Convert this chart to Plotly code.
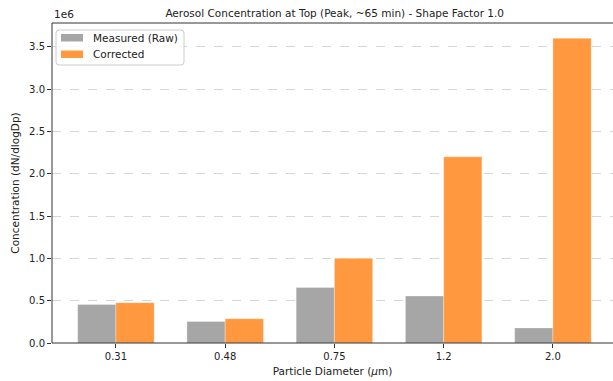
import plotly.graph_objects as go

diameters = ["0.31", "0.48", "0.75", "1.2", "2.0"]
measured = [0.455e6, 0.255e6, 0.655e6, 0.555e6, 0.178e6]
corrected = [0.476e6, 0.287e6, 1.0e6, 2.2e6, 3.6e6]
y_ticks = [0, 0.5e6, 1.0e6, 1.5e6, 2.0e6, 2.5e6, 3.0e6, 3.5e6]
y_tick_text = ["0.0", "0.5", "1.0", "1.5", "2.0", "2.5", "3.0", "3.5"]
series_names = ["Measured (Raw)", "Corrected"]
series_colors = ["#a6a6a6", "#ff983e"]

font = "DejaVu Sans"
W, H = 613, 381
ML, MR, MT, MB = 52, 0, 23, 38
PW, PH = W - ML - MR, H - MT - MB

def px(x):
    return (x - ML) / PW

def py(y):
    return (H - MB - y) / PH

fig = go.Figure()
for name, vals, col in zip(series_names, [measured, corrected], series_colors):
    fig.add_bar(x=list(range(len(diameters))), y=vals, name=name,
                marker=dict(color=col, line=dict(color="rgba(255,255,255,0.6)", width=0.5)))

fig.update_layout(
    width=W, height=H,
    margin=dict(l=ML, r=MR, t=MT, b=MB),
    paper_bgcolor="white", plot_bgcolor="white",
    barmode="group", bargap=0.3, bargroupgap=0,
    font=dict(family=font, size=10, color="#222"),
    title=dict(text="Aerosol Concentration at Top (Peak, ~65 min) - Shape Factor 1.0",
               x=0.546, xanchor="center", y=0.965, yanchor="middle",
               font=dict(size=10.5, family=font, color="#222")),
    showlegend=False,
)
fig.update_xaxes(
    range=[-0.585, 4.55],
    tickmode="array", tickvals=list(range(len(diameters))), ticktext=diameters,
    ticks="outside", ticklen=4, tickcolor="#333", showline=False,
    showgrid=False, zeroline=False,
    title=dict(text="Particle Diameter (<i>μ</i>m)", font=dict(size=10.5, family=font), standoff=6),
)
fig.update_yaxes(
    range=[0, 3.78e6],
    tickmode="array", tickvals=y_ticks, ticktext=y_tick_text,
    ticks="outside", ticklen=4, tickcolor="#333", showline=False,
    showgrid=True, gridcolor="#d6d6d6", griddash="dash",
    gridwidth=0.8, zeroline=False,
    title=dict(text="Concentration (dN/dlogDp)", font=dict(size=10.5, family=font), standoff=7),
)
# axes spines (left, top, bottom; right spine lies outside the visible window)
for x0, x1, y0, y1 in [(0, 1.01, 1, 1), (0, 1.01, 0, 0), (0, 0, 0, 1)]:
    fig.add_shape(type="line", xref="paper", yref="paper", x0=x0, x1=x1, y0=y0, y1=y1,
                  line=dict(color="#333", width=1))

# legend box (matplotlib-style, rounded)
bx0, bx1, by0, by1 = 56, 184, 30, 65
r = 3
rx, ry = r / PW, r / PH
X0, X1, Y0, Y1 = px(bx0), px(bx1), py(by1), py(by0)
path = (f"M {X0+rx},{Y1} L {X1-rx},{Y1} Q {X1},{Y1} {X1},{Y1-ry} "
        f"L {X1},{Y0+ry} Q {X1},{Y0} {X1-rx},{Y0} L {X0+rx},{Y0} "
        f"Q {X0},{Y0} {X0},{Y0+ry} L {X0},{Y1-ry} Q {X0},{Y1} {X0+rx},{Y1} Z")
fig.add_shape(type="path", xref="paper", yref="paper", path=path,
              fillcolor="rgba(255,255,255,0.8)", line=dict(color="#cccccc", width=1))
for i, (name, col) in enumerate(zip(series_names, series_colors)):
    top = 34 + i * 16.5
    fig.add_shape(type="rect", xref="paper", yref="paper",
                  x0=px(61), x1=px(83), y0=py(top + 7.5), y1=py(top),
                  fillcolor=col, line=dict(width=0))
    fig.add_annotation(text=name, xref="paper", yref="paper", x=px(91), y=py(top + 4),
                       xanchor="left", yanchor="middle", showarrow=False,
                       font=dict(size=10.5, family=font, color="#222"))

fig.add_annotation(text="1e6", xref="paper", yref="paper", x=0, y=1.0, xanchor="left",
                   yanchor="bottom", showarrow=False, font=dict(size=10.5, family=font, color="#222"),
                   yshift=1)
fig.write_html("out.html", config={"displayModeBar": False})
